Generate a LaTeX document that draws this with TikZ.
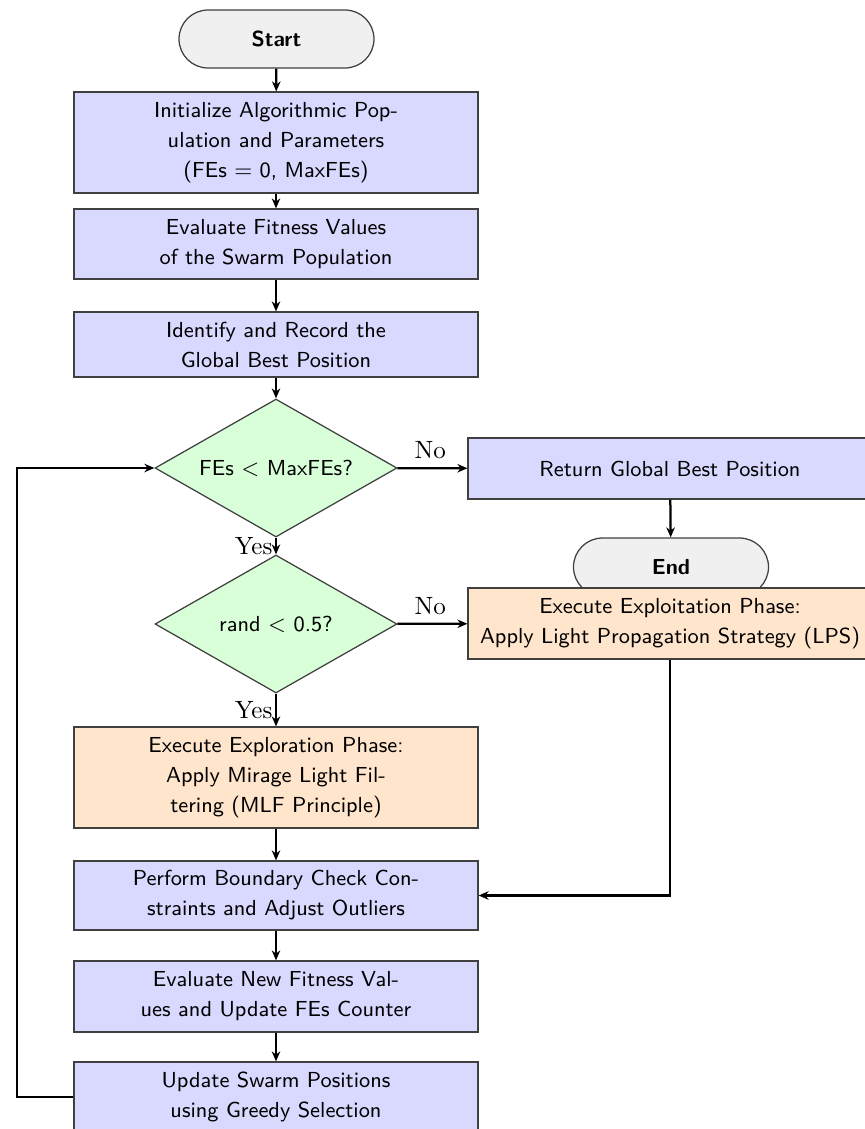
\documentclass[tikz,border=0pt]{standalone}
\usetikzlibrary{shapes.geometric,shapes.misc,arrows.meta}

\newcommand{\boxfont}{\fontsize{8.7pt}{12pt}\selectfont\sffamily}

\tikzset{
  base/.style={draw=black!75, line width=0.5pt, font=\boxfont, align=center, inner sep=2pt},
  process/.style={base, rectangle, fill=blue!15, minimum width=161.6pt},
  phase/.style={base, rectangle, fill=orange!20, minimum width=161.6pt},
  decision/.style={base, diamond, fill=green!15, aspect=1.75, inner sep=0pt,
                   minimum width=96.8pt, minimum height=55.2pt},
  terminal/.style={base, rounded rectangle, fill=gray!12, font=\boxfont\bfseries,
                   minimum width=82pt, minimum height=23.2pt},
  flow/.style={line width=0.9pt, -{Stealth[length=4pt,width=3.4pt]}},
  branch/.style={font=\rmfamily}
}

\begin{document}
\begin{tikzpicture}[x=0.4pt, y=-0.4pt]
  \useasboundingbox (0,0) rectangle (865,1129);

  % main column
  \node[terminal] (start) at (276.5,39) {Start};
  \node[process, minimum height=40.4pt] (init) at (276,142.5)
    {Initialize Algorithmic Pop-\\ulation and Parameters\\(FEs $=$ 0, MaxFEs)};
  \node[process, minimum height=28pt] (eval) at (276,244)
    {Evaluate Fitness Values\\of the Swarm Population};
  \node[process, minimum height=26pt] (ident) at (276,344.5)
    {Identify and Record the\\Global Best Position};
  \node[decision] (loop) at (276,468) {FEs $<$ MaxFEs?};
  \node[decision] (choice) at (276,624) {rand $<$ 0.5?};
  \node[phase, minimum height=40.4pt] (explore) at (276,777.5)
    {Execute Exploration Phase:\\Apply Mirage Light Fil-\\tering (MLF Principle)};
  \node[process, minimum height=27.6pt] (bound) at (276,895.5)
    {Perform Boundary Check Con-\\straints and Adjust Outliers};
  \node[process, minimum height=28.4pt] (evalnew) at (276,996.5)
    {Evaluate New Fitness Val-\\ues and Update FEs Counter};
  \node[process, minimum height=28pt] (update) at (276,1097)
    {Update Swarm Positions\\using Greedy Selection};

  % right column
  \node[process, minimum height=24.4pt] (ret) at (670,468.5) {Return Global Best Position};
  \node[terminal] (finish) at (671,567) {End};
  \node[phase, minimum height=28.4pt] (exploit) at (670,623.5)
    {Execute Exploitation Phase:\\Apply Light Propagation Strategy (LPS)};

  \coordinate (back) at (17,1097);

  % connectors
  \draw[flow] (start) -- (init);
  \draw[flow] (init) -- (eval);
  \draw[flow] (eval) -- (ident);
  \draw[flow] (ident) -- (loop);
  \draw[flow] (loop) -- node[branch, left, inner sep=1pt] {Yes} (choice);
  \draw[flow] (loop) -- node[branch, above, pos=0.47] {No} (ret);
  \draw[flow] (ret) -- (finish);
  \draw[flow] (choice) -- node[branch, left, inner sep=1pt] {Yes} (explore);
  \draw[flow] (choice) -- node[branch, above, pos=0.47] {No} (exploit);
  \draw[flow] (explore) -- (bound);
  \draw[flow] (exploit.south) |- (bound.east);
  \draw[flow] (bound) -- (evalnew);
  \draw[flow] (evalnew) -- (update);
  \draw[flow] (update.west) -- (back) |- (loop.west);
\end{tikzpicture}
\end{document}
